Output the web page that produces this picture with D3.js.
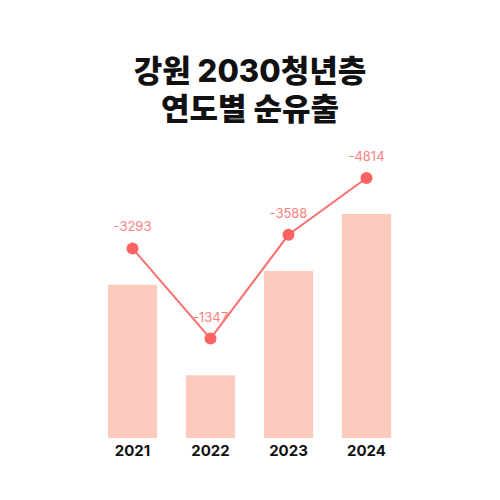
<!DOCTYPE html>
<html>
<head>
<meta charset="utf-8">
<script src="https://cdn.jsdelivr.net/npm/d3@7"></script>
<style>
  body { margin: 0; background: #fff; }
  svg { font-family: Inter, "Noto Sans CJK KR", sans-serif; }
</style>
</head>
<body>
<script>
// 데이터
var years = ['2021', '2022', '2023', '2024'];
var netOutflow = [-3293, -1347, -3588, -4814];
var titleLines = ['강원 2030청년층', '연도별 순유출'];

var width = 500, height = 500;

var svg = d3.select('body').append('svg')
  .attr('width', width)
  .attr('height', height);

// 제목
svg.selectAll('.title')
  .data(titleLines)
  .enter()
  .append('text')
  .attr('class', 'title')
  .attr('x', 250)
  .attr('y', function (d, i) { return 82 + i * 38 })
  .attr('text-anchor', 'middle')
  .style('font-family', 'Inter, "Noto Sans CJK KR", sans-serif')
  .style('font-size', '31px')
  .style('font-weight', 800)
  .style('fill', '#111')
  .text(function (d) { return d });

var x = d3.scaleBand()
  .domain(years)
  .range([93.5, 405.5])
  .paddingInner(0.37)
  .paddingOuter(0.185);

var maxV = d3.max(netOutflow, function (d) { return Math.abs(d) });

// 막대 (절대값)
var yBar = d3.scaleLinear().domain([0, maxV]).range([438, 214]);
// 선 (같은 비율, 위로 이동)
var yLine = d3.scaleLinear().domain([0, maxV]).range([401, 178]);

var data = years.map(function (y, i) { return {year: y, value: netOutflow[i]} });

svg.selectAll('.bar')
  .data(data)
  .enter()
  .append('rect')
  .attr('class', 'bar')
  .attr('x', function (d) { return x(d.year) })
  .attr('width', x.bandwidth())
  .attr('y', function (d) { return yBar(Math.abs(d.value)) })
  .attr('height', function (d) { return yBar(0) - yBar(Math.abs(d.value)) })
  .style('fill', '#fdcabd');

var line = d3.line()
  .x(function (d) { return x(d.year) + x.bandwidth() / 2 })
  .y(function (d) { return yLine(Math.abs(d.value)) });

svg.append('path')
  .datum(data)
  .attr('d', line)
  .style('fill', 'none')
  .style('stroke', '#fc6f6f')
  .style('stroke-width', 2);

svg.selectAll('.dot')
  .data(data)
  .enter()
  .append('circle')
  .attr('class', 'dot')
  .attr('cx', function (d) { return x(d.year) + x.bandwidth() / 2 })
  .attr('cy', function (d) { return yLine(Math.abs(d.value)) })
  .attr('r', 6)
  .style('fill', '#fc6363');

svg.selectAll('.val')
  .data(data)
  .enter()
  .append('text')
  .attr('class', 'val')
  .attr('x', function (d) { return x(d.year) + x.bandwidth() / 2 })
  .attr('y', function (d) { return yLine(Math.abs(d.value)) - 17 })
  .attr('text-anchor', 'middle')
  .style('font-size', '13px')
  .style('fill', '#fc8080')
  .text(function (d) { return d.value });

// x축 라벨
svg.selectAll('.year')
  .data(years)
  .enter()
  .append('text')
  .attr('class', 'year')
  .attr('x', function (d) { return x(d) + x.bandwidth() / 2 })
  .attr('y', 456)
  .attr('text-anchor', 'middle')
  .style('font-size', '15px')
  .style('font-weight', 700)
  .style('fill', '#111')
  .text(function (d) { return d });
</script>
</body>
</html>
